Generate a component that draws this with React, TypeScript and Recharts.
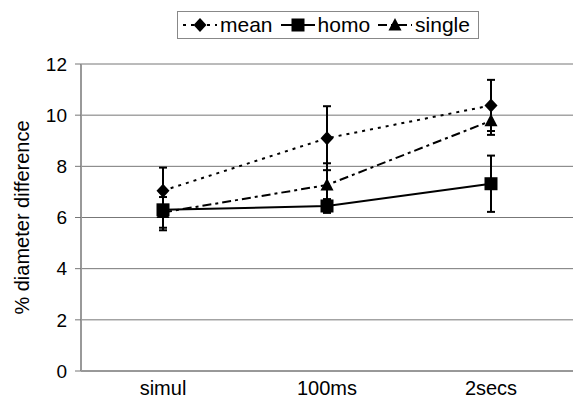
import React from 'react';
import { LineChart, Line, XAxis, YAxis, CartesianGrid, ErrorBar, Legend } from 'recharts';

const categories = ['simul', '100ms', '2secs'];
const meanValues = [7.05, 9.1, 10.38];
const meanErrors = [0.9, 1.25, 1.0];
const homoValues = [6.3, 6.45, 7.32];
const homoErrors = [0.8, 0.27, 1.1];
const singleValues = [6.2, 7.27, 9.78];
const singleErrors = [0.6, 0.85, 0.55];
const yTicks = [0, 2, 4, 6, 8, 10, 12];

const data = categories.map((c, i) => ({
  name: c,
  mean: meanValues[i],
  meanErr: meanErrors[i],
  homo: homoValues[i],
  homoErr: homoErrors[i],
  single: singleValues[i],
  singleErr: singleErrors[i],
}));

const FONT = '"Liberation Sans", Arial, Helvetica, sans-serif';

const Diamond = ({ cx, cy }: any) => (
  <path d={`M${cx},${cy - 7}L${cx + 6.5},${cy}L${cx},${cy + 7}L${cx - 6.5},${cy}Z`} fill="#000" />
);
const Square = ({ cx, cy }: any) => (
  <rect x={cx - 6.5} y={cy - 6.5} width={13} height={13} fill="#000" />
);
const Triangle = ({ cx, cy }: any) => (
  <path d={`M${cx},${cy - 7}L${cx + 6.5},${cy + 5.5}L${cx - 6.5},${cy + 5.5}Z`} fill="#000" />
);

const dotFn = (Shape: any) => (props: any) => {
  const { cx, cy, index } = props;
  if (cx == null || cy == null) return <g key={`d${index}`} />;
  return <Shape key={`d${index}`} cx={cx} cy={cy} />;
};

const legendItems = [
  { label: 'mean', dash: '3 5', Shape: Diamond },
  { label: 'homo', dash: undefined, Shape: Square },
  { label: 'single', dash: '9 4 3 4', Shape: Triangle },
];

const LegendContent = () => (
  <div
    style={{
      border: '1px solid #888',
      height: 28,
      width: 302,
      boxSizing: 'border-box',
      display: 'flex',
      alignItems: 'center',
      background: '#fff',
      fontFamily: FONT,
      fontSize: 21,
      color: '#000',
      paddingLeft: 5,
    }}
  >
    {legendItems.map((it, i) => (
      <div key={it.label} style={{ display: 'flex', alignItems: 'center', marginRight: i < 2 ? 8 : 0 }}>
        <svg width={34} height={20} style={{ display: 'block' }}>
          <line x1={0} y1={10} x2={34} y2={10} stroke="#000" strokeWidth={2} strokeDasharray={it.dash} />
          <it.Shape cx={17} cy={10} />
        </svg>
        <span style={{ marginLeft: 3, lineHeight: '20px' }}>{it.label}</span>
      </div>
    ))}
  </div>
);

export default function App() {
  return (
    <div style={{ position: 'absolute', left: 0, top: 0, width: 573, height: 407, background: '#fff' }}>
      <LineChart
        width={573}
        height={407}
        data={data}
        margin={{ top: 64, right: 0, bottom: 0, left: 0 }}
        style={{ fontFamily: FONT }}
      >
        <CartesianGrid vertical={false} stroke="#777" strokeWidth={1} />
        <XAxis
          dataKey="name"
          scale="band"
          height={36}
          tickLine={false}
          axisLine={{ stroke: '#777', strokeWidth: 1 }}
          tick={{ fill: '#000', fontSize: 20, fontFamily: FONT }}
          tickMargin={4}
        />
        <YAxis
          width={81}
          domain={[0, 12]}
          ticks={yTicks}
          interval={0}
          axisLine={{ stroke: '#999', strokeWidth: 2 }}
          tickLine={{ stroke: '#777' }}
          tickSize={6}
          tickMargin={8}
          tick={{ fill: '#000', fontSize: 19, fontFamily: FONT }}
          label={{
            value: '% diameter difference',
            angle: -90,
            position: 'insideLeft',
            dx: 17,
            dy: 0,
            style: { fill: '#000', fontSize: 20, fontFamily: FONT, textAnchor: 'middle' },
          }}
        />
        <Legend
          verticalAlign="middle"
          align="center"
          layout="horizontal"
          content={<LegendContent />}
          wrapperStyle={{ top: 11, left: 177, width: 302, height: 28 }}
        />
        <Line
          dataKey="mean"
          stroke="#000"
          strokeWidth={2}
          strokeDasharray="3 5"
          dot={dotFn(Diamond)}
          activeDot={false}
          isAnimationActive={false}
        >
          <ErrorBar dataKey="meanErr" direction="y" width={4} stroke="#000" strokeWidth={2} />
        </Line>
        <Line
          dataKey="single"
          stroke="#000"
          strokeWidth={2}
          strokeDasharray="9 4 3 4"
          dot={dotFn(Triangle)}
          activeDot={false}
          isAnimationActive={false}
        >
          <ErrorBar dataKey="singleErr" direction="y" width={4} stroke="#000" strokeWidth={2} />
        </Line>
        <Line
          dataKey="homo"
          stroke="#000"
          strokeWidth={2}
          dot={dotFn(Square)}
          activeDot={false}
          isAnimationActive={false}
        >
          <ErrorBar dataKey="homoErr" direction="y" width={4} stroke="#000" strokeWidth={2} />
        </Line>
      </LineChart>
    </div>
  );
}
